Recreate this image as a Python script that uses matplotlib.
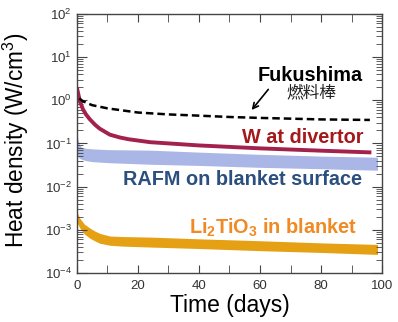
import numpy as np
import matplotlib
matplotlib.use("Agg")
import matplotlib.pyplot as plt
from matplotlib.ticker import MultipleLocator, LogLocator, NullFormatter

plt.rcParams['font.family'] = ['Liberation Sans', 'Noto Sans CJK JP', 'DejaVu Sans']
plt.rcParams['mathtext.fontset'] = 'custom'
plt.rcParams['mathtext.rm'] = 'Liberation Sans'
plt.rcParams['mathtext.bf'] = 'Liberation Sans:bold'

# Fukushima fuel rod (dashed)
t_fuku = [0.8, 2, 5, 10, 20, 30, 40, 50, 60, 70, 80, 96]
q_fuku = [1.1, 0.95, 0.77, 0.65, 0.52, 0.47, 0.44, 0.41, 0.39, 0.375, 0.36, 0.35]

# W at divertor
t_w = [0, 1, 2, 3, 4.3, 6, 7.5, 10.8, 14, 17, 24, 40, 60, 80, 96.5]
q_w = [2.0, 0.95, 0.62, 0.47, 0.36, 0.27, 0.22, 0.16, 0.138, 0.125, 0.107, 0.09, 0.077, 0.068, 0.062]

# RAFM on blanket surface (band)
t_rafm = [0, 0.3, 0.8, 1.5, 3, 5, 10, 24, 40, 60, 80, 98.5]
rafm_hi = [0.2, 0.13, 0.095, 0.082, 0.077, 0.075, 0.072, 0.07, 0.063, 0.056, 0.051, 0.048]
rafm_lo = [0.06, 0.05, 0.046, 0.043, 0.04, 0.038, 0.036, 0.033, 0.031, 0.028, 0.026, 0.024]

# Li2TiO3 in blanket (band)
t_li = [0, 1, 2.5, 4.3, 6, 7.5, 10.8, 15, 24, 40, 60, 80, 98.5]
li_hi = [2.6e-3, 1.85e-3, 1.35e-3, 1.1e-3, 9.3e-4, 8.3e-4, 7.2e-4, 7.0e-4, 6.8e-4, 6.2e-4, 5.6e-4, 5.0e-4, 4.6e-4]
li_lo = [1.5e-3, 1.1e-3, 8.0e-4, 6.4e-4, 5.5e-4, 4.9e-4, 4.4e-4, 4.2e-4, 4.0e-4, 3.7e-4, 3.3e-4, 3.0e-4, 2.7e-4]

fig = plt.figure(figsize=(3.98, 3.22), dpi=100)
ax = fig.add_axes([0.193, 0.152, 0.767, 0.805])

ax.fill_between(t_rafm, rafm_lo, rafm_hi, color='#aab6e6', lw=0)
ax.fill_between(t_li, li_lo, li_hi, color='#e6a013', lw=0)
ax.plot(t_w, q_w, color='#a3214d', lw=2.8, solid_capstyle='butt')
ax.plot(t_fuku, q_fuku, color='black', lw=1.8, dashes=(3, 1.6))

ax.set_yscale('log')
ax.set_xlim(0, 100)
ax.set_ylim(1e-4, 1e2)

ax.xaxis.set_major_locator(MultipleLocator(20))
ax.xaxis.set_minor_locator(MultipleLocator(10))
ax.yaxis.set_major_locator(LogLocator(base=10))
ax.yaxis.set_minor_locator(LogLocator(base=10, subs=np.arange(2, 10)))
ax.yaxis.set_minor_formatter(NullFormatter())
ax.tick_params(which='both', direction='in', top=True, right=True, color='#444444',
               labelsize=9.5, labelcolor='#333333')
ax.tick_params(axis='x', which='both', length=6, pad=5)
ax.tick_params(axis='y', which='major', length=7)
ax.tick_params(axis='y', which='minor', length=4)
for s in ax.spines.values():
    s.set_color('#444444')
    s.set_linewidth(1.0)

ax.set_xlabel('Time (days)', fontsize=16.5, labelpad=1.5)
ax.set_ylabel('Heat density (W/cm$^3$)', fontsize=16.3)
ax.yaxis.set_label_coords(-0.15, 0.51)

ax.text(93.8, 3.8, 'Fukushima', ha='right', va='center', fontsize=14.3, fontweight='bold', color='black')
ax.text(77, 1.45, '燃料棒', ha='center', va='center', fontsize=12,
        family=['Noto Sans CJK JP', 'DejaVu Sans'], color='#222222')
ax.annotate('', xy=(56.7, 0.53), xytext=(63.3, 2.0),
            arrowprops=dict(arrowstyle='->', color='black', lw=1.2))
ax.text(93.8, 0.14, 'W at divertor', ha='right', va='center', fontsize=14.3, fontweight='bold', color='#a3191c')
ax.text(93.4, 0.0148, 'RAFM on blanket surface', ha='right', va='center', fontsize=14.3,
        fontweight='bold', color='#2b4f7e')
ax.text(91.8, 1.1e-3, r'Li$_\mathbf{2}$TiO$_\mathbf{3}$ in blanket', ha='right', va='center', fontsize=14.3,
        fontweight='bold', color='#f08a24')

fig.savefig('out.png', dpi=100)
